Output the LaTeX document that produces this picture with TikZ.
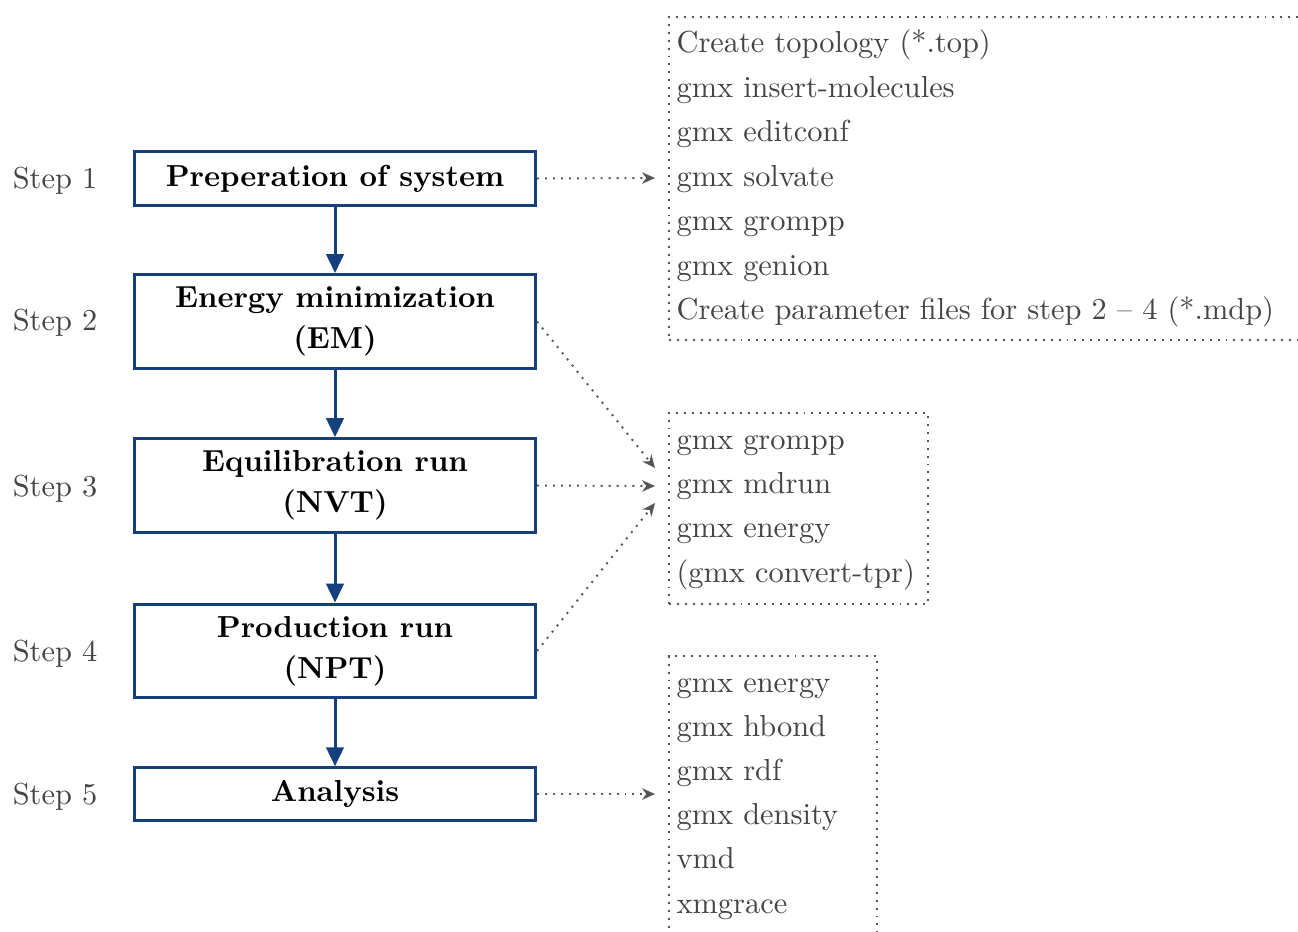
\documentclass[tikz,border=0pt]{standalone}
\usetikzlibrary{arrows.meta}
\definecolor{boxblue}{RGB}{22,63,126}
\definecolor{txtgray}{RGB}{68,68,68}
\definecolor{dotgray}{RGB}{85,85,85}
\begin{document}
\begin{tikzpicture}[x={(0.33333pt,0)},y={(0,-0.33333pt)},
  every node/.style={font=\fontsize{10.13}{12}\selectfont},
  stepbox/.style={draw=boxblue,line width=1pt,minimum width=133.7pt,align=center,
    font=\bfseries\fontsize{10.13}{13.8}\selectfont,inner sep=0pt},
  steplabel/.style={anchor=base,text=txtgray,inner sep=0pt},
  item/.style={anchor=base west,text=txtgray,inner sep=0pt},
  listbox/.style={draw=dotgray,dotted,line width=0.65pt,anchor=north west,inner sep=0pt},
  flow/.style={draw=boxblue,line width=1pt,-{Triangle[width=5.8pt,length=6.3pt]}},
  link/.style={draw=dotgray,dotted,line width=0.65pt,-{Stealth[length=4.3pt,width=3.8pt]}}]
\useasboundingbox (0,0) rectangle (1298,931);
\clip (0,0) rectangle (1298,931);

% step boxes
\node[stepbox,minimum height=17.8pt] (s1) at (335,178.5) {Preperation of system};
\node[stepbox,minimum height=31.3pt] (s2) at (335,321.5) {Energy minimization\\(EM)};
\node[stepbox,minimum height=31.3pt] (s3) at (335,485.5) {Equilibration run\\(NVT)};
\node[stepbox,minimum height=31.3pt] (s4) at (335,651) {Production run\\(NPT)};
\node[stepbox,minimum height=17.5pt] (s5) at (335,794) {Analysis};

% step labels
\node[steplabel] (n1) at (55,188) {Step 1};
\node[steplabel] (n2) at (55,330) {Step 2};
\node[steplabel] (n3) at (55,496) {Step 3};
\node[steplabel] (n4) at (55,661) {Step 4};
\node[steplabel] (n5) at (55,804) {Step 5};

% flow arrows
\draw[flow] (s1) -- (s2);
\draw[flow] (s2) -- (s3);
\draw[flow] (s3) -- (s4);
\draw[flow] (s4) -- (s5);

% list boxes
\node[listbox,minimum width=214pt,minimum height=107.7pt] (L1) at (668,16) {};
\node[listbox,minimum width=86.3pt,minimum height=63.7pt] (L2) at (668,412) {};
\node[listbox,minimum width=69.3pt,minimum height=100pt] (L3) at (668,655) {};

% list 1
\node[item] (a1) at (676,52) {Create topology (*.top)};
\node[item] (a2) at (676,97) {gmx insert-molecules};
\node[item] (a3) at (676,141) {gmx editconf};
\node[item] (a4) at (676,186) {gmx solvate};
\node[item] (a5) at (676,230) {gmx grompp};
\node[item] (a6) at (676,275) {gmx genion};
\node[item] (a7) at (676,319) {Create parameter files for step 2 -- 4 (*.mdp)};

% list 2
\node[item] (b1) at (676,449) {gmx grompp};
\node[item] (b2) at (676,493) {gmx mdrun};
\node[item] (b3) at (676,537) {gmx energy};
\node[item] (b4) at (676,582) {(gmx convert-tpr)};

% list 3
\node[item] (c1) at (676,692) {gmx energy};
\node[item] (c2) at (676,736) {gmx hbond};
\node[item] (c3) at (676,780) {gmx rdf};
\node[item] (c4) at (676,824) {gmx density};
\node[item] (c5) at (676,868) {vmd};
\node[item] (c6) at (676,913) {xmgrace};

% link targets
\coordinate (t1) at (655,178);
\coordinate (t2) at (655,468);
\coordinate (t3) at (655,486);
\coordinate (t4) at (655,503);
\coordinate (t5) at (655,794);

\draw[link] (s1.east) -- (t1);
\draw[link] (s2.east) -- (t2);
\draw[link] (s3.east) -- (t3);
\draw[link] (s4.east) -- (t4);
\draw[link] (s5.east) -- (t5);
\end{tikzpicture}
\end{document}
